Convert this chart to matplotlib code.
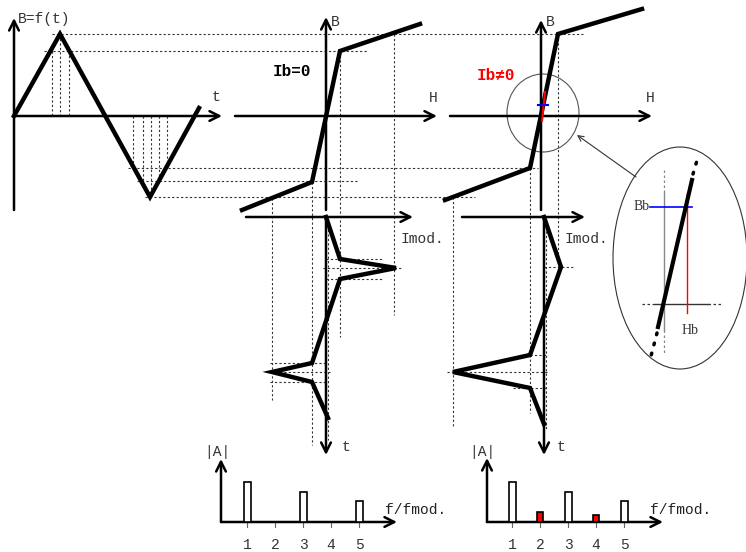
import matplotlib
matplotlib.use("Agg")
import matplotlib.pyplot as plt
from matplotlib.patches import Ellipse

# drawing is laid out in pixel units (x right, y down)
W, H = 746, 552

# B(t) triangle excitation
wave_t = [14, 60, 150, 199]
wave_b = [116, 34, 197, 108]

# B(H) characteristics, without and with bias
bh0_h = [242, 312, 340, 420]
bh0_b = [210, 182, 51, 24]
bh1_h = [445, 530, 558, 642]
bh1_b = [200, 168, 34, 9]

# modulation current vs time
imod0_i = [326, 340, 396, 340, 312, 272, 312, 328]
imod0_t = [217, 259, 268, 279, 363, 372, 382, 418]
imod1_i = [544, 561, 530, 453, 530, 544]
imod1_t = [217, 267, 355, 372, 388, 424]

# harmonic spectra |A| at f/fmod = 1..5
harm = [1, 2, 3, 4, 5]
amp_ib0 = [40, 0, 30, 0, 21]
amp_ib1 = [40, 10, 30, 7, 21]
odd_harm = [True, False, True, False, True]

# projection guide lines (x0, y0, x1, y1)
guides = [
    (52, 34, 583, 34), (44, 51, 368, 51), (128, 168, 538, 168),
    (137, 181, 358, 181), (145, 197, 475, 197),
    (52, 51, 52, 116), (60, 34, 60, 116), (69, 51, 69, 116),
    (133, 116, 133, 168), (143, 116, 143, 181), (151, 116, 151, 197),
    (159, 116, 159, 181), (167, 116, 167, 168),
    (272, 198, 272, 400), (312, 182, 312, 445), (340, 51, 340, 337),
    (394, 34, 394, 315),
    (326, 259, 383, 259), (323, 268, 402, 268), (326, 279, 383, 279),
    (270, 363, 326, 363), (266, 372, 330, 372), (270, 382, 326, 382),
    (328, 225, 328, 440),
    (453, 197, 453, 427), (530, 168, 530, 413), (558, 34, 558, 266),
    (544, 267, 573, 267), (530, 355, 548, 355), (447, 372, 548, 372),
    (513, 388, 548, 388), (546, 222, 546, 430),
]

# axes with arrowheads (tail x, tail y, head x, head y)
axes_arrows = [
    (14, 210, 14, 18), (14, 116, 222, 116),
    (326, 210, 326, 17), (235, 116, 437, 116),
    (246, 217, 413, 217), (326, 217, 326, 455),
    (541, 210, 541, 20), (450, 116, 652, 116),
    (462, 217, 585, 217), (544, 217, 544, 455),
    (221, 522, 221, 459), (221, 522, 397, 522),
    (487, 522, 487, 458), (487, 522, 663, 522),
]

spec_x0 = [219, 484]
spec_step = 28
spec_base = 522

MONO = ["Liberation Mono", "DejaVu Sans Mono"]

fig = plt.figure(figsize=(W / 100, H / 100), dpi=100)
ax = fig.add_axes([0, 0, 1, 1])
ax.set_xlim(0, W)
ax.set_ylim(H, 0)
ax.axis("off")

dot = dict(color="#333333", lw=0.8, ls=(0, (2, 2)), zorder=1)
for x0, y0, x1, y1 in guides:
    ax.plot([x0, x1], [y0, y1], **dot)

for x0, y0, x1, y1 in axes_arrows:
    ax.annotate("", xy=(x1, y1), xytext=(x0, y0), zorder=3,
                arrowprops=dict(arrowstyle="->,head_length=0.7,head_width=0.35",
                                lw=1.8, color="black", shrinkA=0, shrinkB=0))

thick = dict(color="black", lw=3.2, solid_joinstyle="miter", zorder=4)
ax.plot(wave_t, wave_b, **thick)
ax.plot(bh0_h, bh0_b, **thick)
ax.plot(bh1_h, bh1_b, **thick)
ax.plot(imod0_i, imod0_t, **thick)
ax.plot(imod1_i, imod1_t, **thick)

# bias marks near the origin of the biased curve
ax.plot([545, 542], [92, 121], color="red", lw=1.5, zorder=5)
ax.plot([538, 548], [105, 105], color="blue", lw=1.5, zorder=5)
ax.add_patch(Ellipse((543, 113), 72, 78, fill=False, ec="#555555", lw=0.8, zorder=2))
ax.annotate("", xy=(577, 135), xytext=(636, 177),
            arrowprops=dict(arrowstyle="->", lw=0.8, color="#333333",
                            shrinkA=0, shrinkB=0))

# magnified view
ax.add_patch(Ellipse((680, 258), 134, 222, fill=False, ec="#333333", lw=0.8))
ax.plot([664, 664], [170, 193], color="#888888", lw=0.9, ls=(0, (2, 2)))
ax.plot([664, 664], [193, 330], color="#888888", lw=1.0)
ax.plot([664, 664], [330, 353], color="#888888", lw=0.9, ls=(0, (2, 2)))
ax.plot([642, 655], [304, 304], color="#333333", lw=0.9, ls=(0, (2, 2)))
ax.plot([655, 708], [304, 304], color="#333333", lw=1.0)
ax.plot([708, 723], [304, 304], color="#333333", lw=0.9, ls=(0, (2, 2)))
ax.plot([687, 687], [193, 313], color="red", lw=1.0, zorder=3)
ax.plot([650, 692], [207, 207], color="blue", lw=1.2, zorder=3)
ax.plot([658, 692], [327, 180], color="black", lw=3.0, zorder=4)
ax.plot([693, 698], [174, 157], color="black", lw=2.5, ls=(0, (0.5, 2.5)),
        dash_capstyle="round")
ax.plot([657, 651], [333, 356], color="black", lw=2.5, ls=(0, (0.5, 2.5)),
        dash_capstyle="round")
ax.text(650, 207, "Bb", family="Liberation Serif", fontsize=10,
        ha="right", va="center", color="#333333")
ax.text(690, 330, "Hb", family="Liberation Serif", fontsize=10,
        ha="center", va="center", color="#333333")

# spectra
for x0, amps in zip(spec_x0, [amp_ib0, amp_ib1]):
    for f, a, odd in zip(harm, amps, odd_harm):
        x = x0 + spec_step * f
        ax.plot([x, x], [spec_base, spec_base + 5], color="#666666", lw=0.8)
        ax.text(x, 545, str(f), family=MONO, fontsize=10.5,
                ha="center", va="center", color="#333333")
        if a > 0:
            ax.bar(x, -a, bottom=spec_base, width=7 if odd else 6,
                   color="white" if odd else "red", edgecolor="black",
                   linewidth=1.2, zorder=5)
    ax.text(x0 - 2, 452, "|A|", family=MONO, fontsize=10.5,
            ha="center", va="center", color="#333333")
    ax.text(x0 + 166, 510, "f/fmod.", family=MONO, fontsize=10.5,
            ha="left", va="center", color="#222222")

txt = dict(family=MONO, fontsize=10.5, va="center", color="#333333")
ax.text(18, 19, "B=f(t)", ha="left", **txt)
ax.text(216, 97, "t", ha="center", **txt)
ax.text(335, 22, "B", ha="center", **txt)
ax.text(433, 98, "H", ha="center", **txt)
ax.text(401, 239, "Imod.", ha="left", **txt)
ax.text(342, 447, "t", ha="left", **txt)
ax.text(550, 22, "B", ha="center", **txt)
ax.text(650, 98, "H", ha="center", **txt)
ax.text(565, 239, "Imod.", ha="left", **txt)
ax.text(557, 447, "t", ha="left", **txt)
ax.text(273, 72, "Ib=0", family=MONO, fontsize=11.5, fontweight="bold",
        ha="left", va="center", color="black")
ax.text(477, 75, "Ib\u22600", family=MONO, fontsize=11.5, fontweight="bold",
        ha="left", va="center", color="red")

fig.savefig("out.png", dpi=100, facecolor="white")
